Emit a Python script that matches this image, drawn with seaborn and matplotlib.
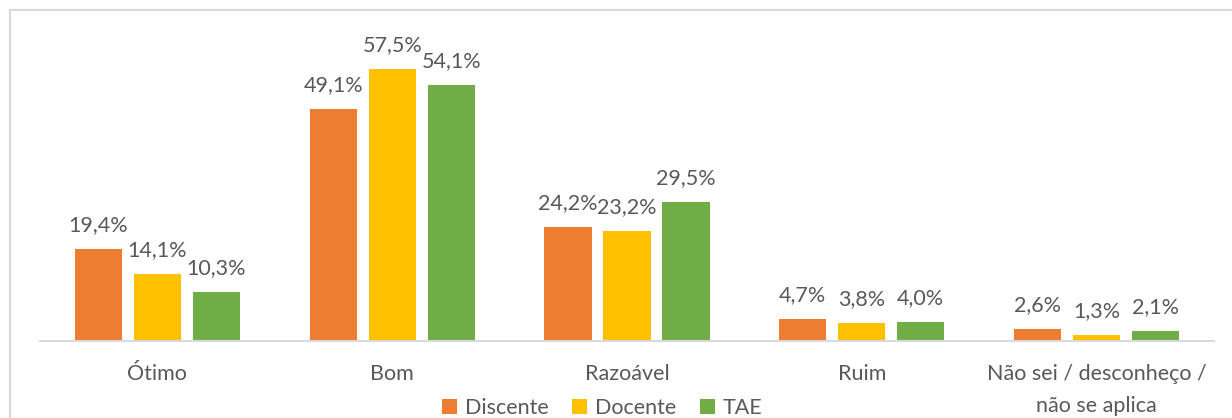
import matplotlib
matplotlib.use("Agg")
import matplotlib.pyplot as plt
from matplotlib.lines import Line2D
import seaborn as sns
import pandas as pd

categories = ["Ótimo", "Bom", "Razoável", "Ruim", "Não sei / desconheço /\nnão se aplica"]
series = ["Discente", "Docente", "TAE"]
discente = [19.4, 49.1, 24.2, 4.7, 2.6]
docente = [14.1, 57.5, 23.2, 3.8, 1.3]
tae = [10.3, 54.1, 29.5, 4.0, 2.1]
colors = ["#ED7D31", "#FFC000", "#70AD47"]

df = pd.DataFrame({
    "categoria": categories * 3,
    "grupo": [s for s in series for _ in categories],
    "valor": discente + docente + tae,
})

sns.set_theme(style="white")
plt.rcParams["font.family"] = ["Lato", "DejaVu Sans"]
text_color = "#595959"
fs = 15.5

W, H = 1232, 418
fig = plt.figure(figsize=(W / 100, H / 100), dpi=100)
ax = fig.add_axes([40 / W, (H - 341) / H, (1214 - 40) / W, (341 - 10) / H])

sns.barplot(data=df, x="categoria", y="valor", hue="grupo", order=categories,
            hue_order=series, palette=colors, width=0.753, gap=0.2,
            saturation=1, legend=True, ax=ax, edgecolor="none")

for cont in ax.containers:
    labels = [f"{v:.1f}%".replace(".", ",") for v in cont.datavalues]
    ax.bar_label(cont, labels=labels, padding=10, fontsize=fs, color=text_color)

ax.set_ylim(0, 70)
ax.set_xlim(-0.5, len(categories) - 0.5)
ax.set_xlabel("")
ax.set_ylabel("")
ax.set_yticks([])
for side in ["left", "right", "top"]:
    ax.spines[side].set_visible(False)
ax.spines["bottom"].set_color("#D9D9D9")
ax.spines["bottom"].set_linewidth(1.5)
ax.tick_params(axis="x", length=0, pad=16.5, labelsize=fs, labelcolor=text_color)
for t in ax.get_xticklabels():
    t.set_linespacing(1.78)

handles, lbls = ax.get_legend_handles_labels()
ax.legend_.remove()
fig.legend(handles, lbls, loc="center", bbox_to_anchor=(602 / W, (H - 408) / H),
           ncol=3, frameon=False, fontsize=fs, labelcolor=text_color,
           handlelength=0.7, handleheight=0.7, handletextpad=0.35, columnspacing=1.1)

# chart frame
fig.add_artist(Line2D([10 / W, 1], [(H - 10) / H] * 2, transform=fig.transFigure,
                      color="#D9D9D9", lw=1.5))
fig.add_artist(Line2D([10 / W] * 2, [0, (H - 10) / H], transform=fig.transFigure,
                      color="#D9D9D9", lw=1.5))

fig.savefig("out.png", dpi=100)
